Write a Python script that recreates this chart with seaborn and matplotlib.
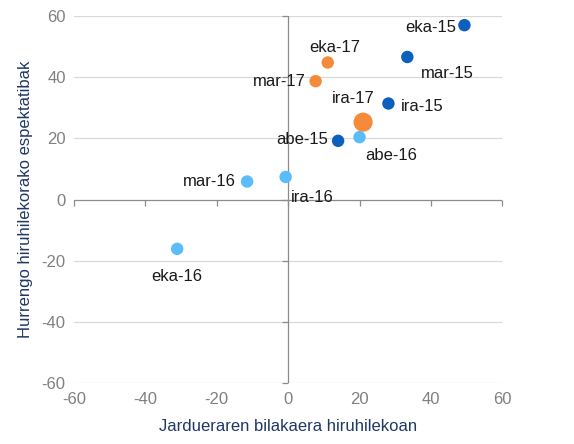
import matplotlib
matplotlib.use("Agg")
import matplotlib.pyplot as plt
import pandas as pd
import seaborn as sns

# quarter labels and coordinates
labels = ["eka-15", "mar-15", "ira-15", "abe-15",
          "eka-16", "mar-16", "ira-16", "abe-16",
          "eka-17", "mar-17", "ira-17"]
activity = [49.4, 33.4, 28.1, 14.0, -31.1, -11.5, -0.7, 20.0, 11.1, 7.7, 21.0]
expectations = [57.0, 46.6, 31.4, 19.2, -16.1, 5.9, 7.4, 20.4, 44.8, 38.7, 25.3]
latest = "ira-17"

df = pd.DataFrame({"label": labels, "x": activity, "y": expectations})
df["year"] = "20" + df["label"].str[-2:]
df["size"] = (df["label"] == latest).map({True: "big", False: "small"})

# label offsets in points (layout only)
offsets = {
    "eka-15": (-6, -2, "right"), "mar-15": (10, -12, "left"),
    "ira-15": (9, -2, "left"), "abe-15": (-7, 1, "right"),
    "eka-16": (0, -20, "center"), "mar-16": (-8, 0, "right"),
    "ira-16": (4, -15, "left"), "abe-16": (4, -13, "left"),
    "eka-17": (5, 11, "center"), "mar-17": (-7, 0, "right"),
    "ira-17": (-7, 17, "center"),
}

sns.set_style("white")
plt.rcParams["font.family"] = ["Liberation Sans", "DejaVu Sans"]
plt.rcParams["axes.unicode_minus"] = False

fig, ax = plt.subplots(figsize=(5.74, 4.44), dpi=100)
fig.subplots_adjust(left=0.129, right=0.875, top=0.964, bottom=0.137)

for t in [-60, -40, -20, 20, 40, 60]:
    ax.axhline(t, color="#d9d9d9", lw=0.9, zorder=0)
ax.axhline(0, color="#8c8c8c", lw=0.9, zorder=1)
ax.axvline(0, color="#8c8c8c", lw=0.9, zorder=1)

ticks = [-60, -40, -20, 0, 20, 40, 60]
ax.plot(ticks, [0] * len(ticks), ls="none", marker=3, ms=4, mew=0.9, color="#8c8c8c", clip_on=False)
ax.plot([0] * len(ticks), ticks, ls="none", marker=0, ms=4, mew=0.9, color="#8c8c8c", clip_on=False)

palette = {"2015": "#0b5fbd", "2016": "#5bbcfa", "2017": "#f58a3a"}
sns.scatterplot(data=df, x="x", y="y", hue="year", palette=palette,
                size="size", sizes={"small": 80, "big": 190},
                edgecolor="none", legend=False, ax=ax, zorder=3, clip_on=False)

for lab, x, y in zip(df["label"], df["x"], df["y"]):
    dx, dy, ha = offsets[lab]
    ax.annotate(lab, (x, y), xytext=(dx, dy), textcoords="offset points",
                ha=ha, va="center", fontsize=12, color="#1a1a1a")

ax.set_xlim(-60, 60)
ax.set_ylim(-60, 60)
ax.set_xticks(ticks)
ax.set_yticks(ticks)
ax.tick_params(length=0, labelsize=12, labelcolor="#808080", pad=6)
for s in ax.spines.values():
    s.set_visible(False)

ax.set_xlabel("Jardueraren bilakaera hiruhilekoan", fontsize=12, color="#1f3864", labelpad=9)
ax.set_ylabel("Hurrengo hiruhilekorako espektatibak", fontsize=12, color="#1f3864", labelpad=6)

fig.savefig("out.png", dpi=100)
